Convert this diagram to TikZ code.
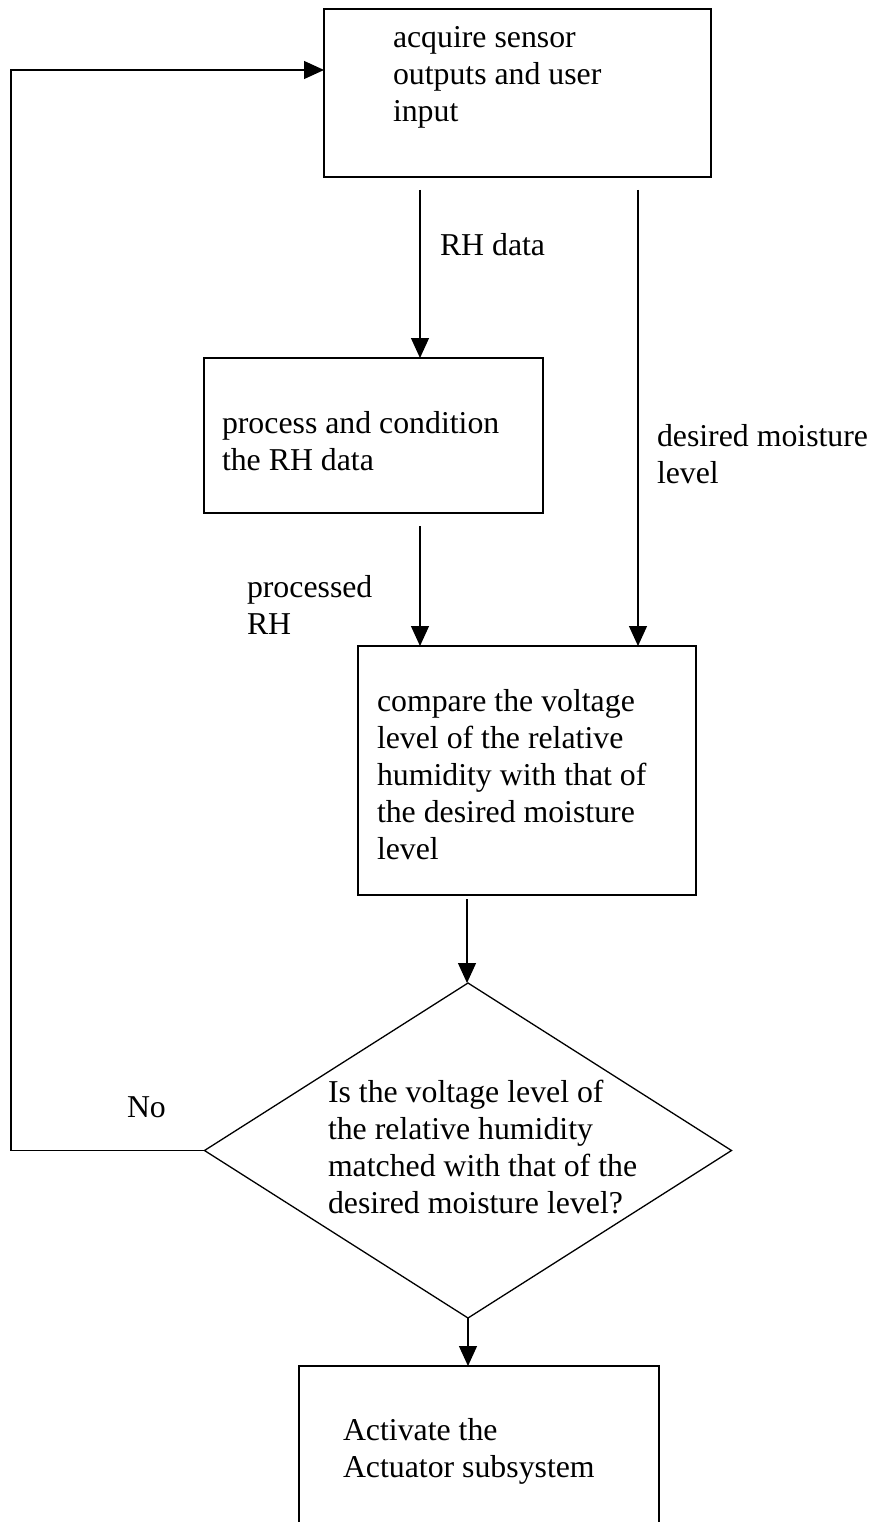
\documentclass[tikz,border=0pt]{standalone}
\usepackage{fontspec}
\setmainfont{Liberation Serif}
\usetikzlibrary{shapes.geometric,arrows.meta}
\tikzset{
  box/.style={draw, rectangle, line width=1.8pt, inner sep=0pt, outer sep=0pt},
  decision/.style={draw, diamond, line width=1.3pt, inner sep=0pt, outer sep=0pt},
  txt/.style={anchor=base west, inner sep=0pt, outer sep=0pt, font=\fontsize{31.8}{37}\selectfont},
  flow/.style={line width=1.2pt, -{Triangle[length=20pt,width=18pt]}},
}
\newcommand{\lines}[1]{\begin{tabular}[t]{@{}l@{}}#1\end{tabular}}
\begin{document}
\begin{tikzpicture}[x=1pt,y=-1pt]
\useasboundingbox (0,0) rectangle (872,1522);
\fill[white] (0,0) rectangle (872,1522);
% boxes
\node[box, minimum width=387pt, minimum height=168pt] (b1) at (517.5,93) {};
\node[box, minimum width=339pt, minimum height=155pt] (b2) at (373.5,435.5) {};
\node[box, minimum width=338pt, minimum height=249pt] (b3) at (527,770.5) {};
\node[decision, minimum width=527pt, minimum height=335pt] (d) at (468,1150.5) {};
\node[box, minimum width=360pt, minimum height=164pt] (b4) at (479,1448) {};
% texts
\node[txt] (t1) at (393,48) {\lines{acquire sensor\\outputs and user\\input}};
\node[txt] (l1) at (440,255) {RH data};
\node[txt] (t2) at (222,433) {\lines{process and condition\\the RH data}};
\node[txt] (l2) at (657,446) {\lines{desired moisture\\level}};
\node[txt] (l3) at (247,597) {\lines{processed\\RH}};
\node[txt] (t3) at (377,711) {\lines{compare the voltage\\level of the relative\\humidity with that of\\the desired moisture\\level}};
\node[txt] (l4) at (127,1117) {No};
\node[txt] (t4) at (328,1102) {\lines{Is the voltage level of\\the relative humidity\\matched with that of the\\desired moisture level?}};
\node[txt] (t5) at (343,1440) {\lines{Activate the\\Actuator subsystem}};
% connectors
\coordinate (s1) at (420,190);
\coordinate (s2) at (638,190);
\coordinate (s3) at (420,526);
\coordinate (s4) at (467,899);
\coordinate (c2) at (11,70);
\draw[flow] (s1) -- (s1 |- b2.north);
\draw[flow] (s2) -- (s2 |- b3.north);
\draw[flow] (s3) -- (s3 |- b3.north);
\draw[flow] (s4) -- (s4 |- d.north);
\draw[flow] (d.south) -- (d.south |- b4.north);
\draw[flow] (d.west) -- (d.west -| c2) -- (c2) -- (c2 -| b1.west);
\end{tikzpicture}
\end{document}
